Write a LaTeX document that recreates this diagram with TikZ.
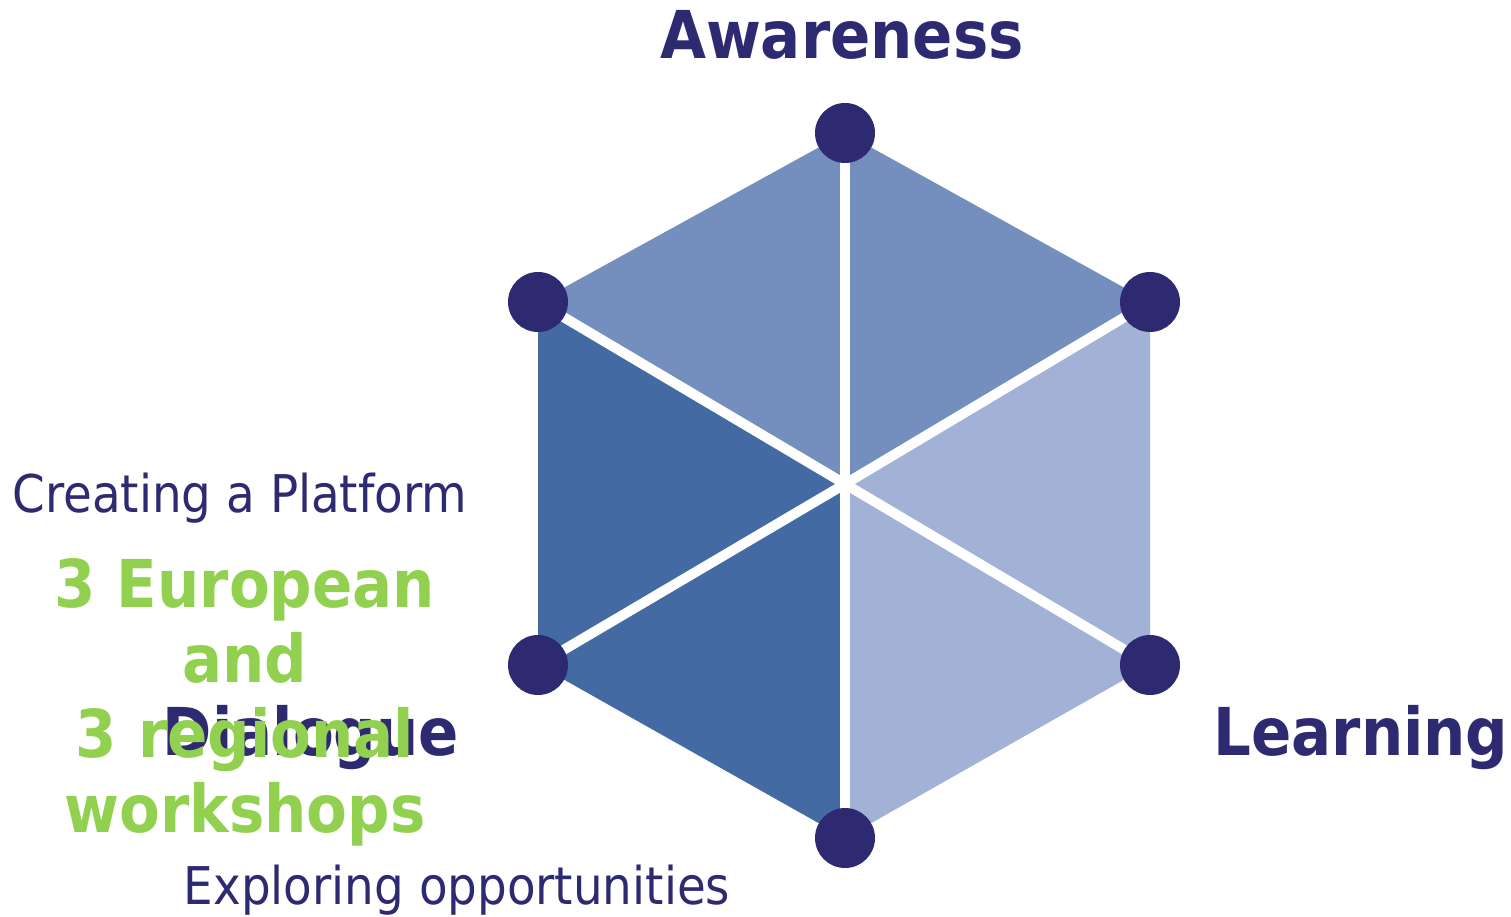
\documentclass[tikz,border=0pt]{standalone}
\usepackage{fontspec}
\setmainfont[FakeStretch=0.9,BoldFeatures={FakeStretch=0.9}]{DejaVu Sans}
\definecolor{navy}{HTML}{2E2A72}
\definecolor{midblue}{HTML}{748EBD}
\definecolor{lightblue}{HTML}{A2B1D6}
\definecolor{darkblue}{HTML}{436AA2}
\definecolor{leafgreen}{HTML}{92D050}
\tikzset{
  corner/.style={circle,fill=navy,minimum size=60pt,inner sep=0pt},
  spoke/.style={white,line width=10pt},
  pillar/.style={navy,font=\fontsize{66}{75}\selectfont\bfseries,inner sep=0pt,anchor=base},
  remark/.style={navy,font=\fontsize{52}{60}\selectfont,inner sep=0pt,anchor=base},
  workshops/.style={leafgreen,font=\fontsize{66}{75}\selectfont\bfseries,inner sep=0pt,anchor=base,align=center}
}
\begin{document}
\begin{tikzpicture}[x=1pt,y=1pt]
	\useasboundingbox (0,0) rectangle (1511,917);
	\coordinate (C) at (845,433);
	\coordinate (T) at (845,784);
	\coordinate (UR) at (1150,615);
	\coordinate (LR) at (1150,252);
	\coordinate (B) at (845,79);
	\coordinate (LL) at (538,252);
	\coordinate (UL) at (538,615);
	% hexagon segments
	\fill[midblue] (C) -- (UL) -- (T) -- cycle;
	\fill[midblue] (C) -- (T) -- (UR) -- cycle;
	\fill[lightblue] (C) -- (UR) -- (LR) -- cycle;
	\fill[lightblue] (C) -- (LR) -- (B) -- cycle;
	\fill[darkblue] (C) -- (B) -- (LL) -- cycle;
	\fill[darkblue] (C) -- (LL) -- (UL) -- cycle;
	\draw[spoke] (C) -- (T);
	\draw[spoke] (C) -- (UR);
	\draw[spoke] (C) -- (LR);
	\draw[spoke] (C) -- (B);
	\draw[spoke] (C) -- (LL);
	\draw[spoke] (C) -- (UL);
	\node[corner] (dotT) at (T) {};
	\node[corner] (dotUR) at (UR) {};
	\node[corner] (dotLR) at (LR) {};
	\node[corner] (dotB) at (B) {};
	\node[corner] (dotLL) at (LL) {};
	\node[corner] (dotUL) at (UL) {};
	% labels
	\node[pillar] (aware) at (842,858) {Awareness};
	\node[pillar] (learn) at (1361,161) {Learning};
	\node[pillar] (dialog) at (311,161) {Dialogue};
	\node[remark] (platform) at (240,404) {Creating a Platform};
	\node[remark] (explore) at (457,12) {Exploring opportunities};
	\node[workshops] (events) at (245,84) {3 European\\and\\3 regional\\workshops};
\end{tikzpicture}
\end{document}
